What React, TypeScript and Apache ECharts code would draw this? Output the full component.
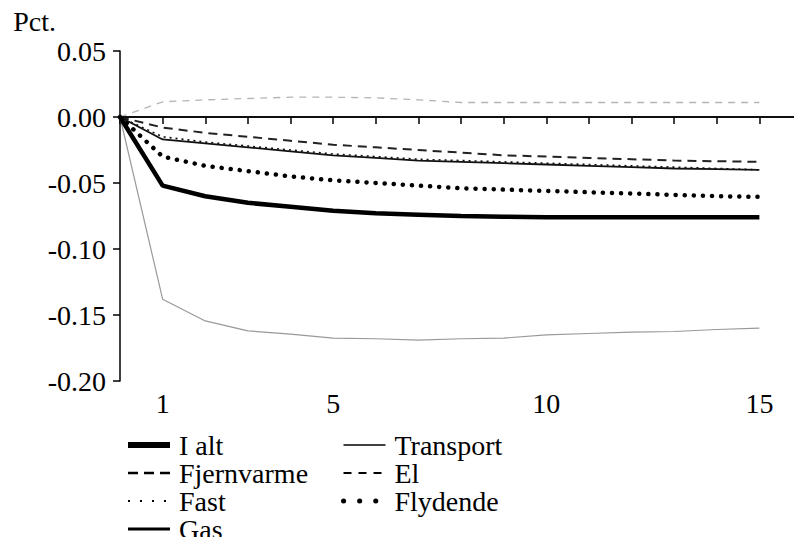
import React, { useEffect, useRef } from "react";
import * as echarts from "echarts";

const periods = [0, 1, 2, 3, 4, 5, 6, 7, 8, 9, 10, 11, 12, 13, 14, 15];
const iAlt = [0, -0.052, -0.060, -0.065, -0.068, -0.071, -0.073, -0.074, -0.075, -0.0755, -0.076, -0.076, -0.076, -0.076, -0.076, -0.076];
const transport = [0, -0.138, -0.1545, -0.162, -0.1645, -0.1675, -0.168, -0.169, -0.168, -0.1675, -0.165, -0.164, -0.163, -0.1625, -0.161, -0.160];
const fjernvarme = [0, -0.008, -0.012, -0.015, -0.018, -0.021, -0.023, -0.025, -0.027, -0.029, -0.030, -0.031, -0.032, -0.033, -0.0335, -0.034];
const el = [0, 0.0115, 0.013, 0.014, 0.015, 0.015, 0.0145, 0.013, 0.011, 0.011, 0.011, 0.011, 0.011, 0.011, 0.011, 0.011];
const fast = [0, -0.015, -0.019, -0.022, -0.025, -0.028, -0.030, -0.032, -0.033, -0.034, -0.035, -0.036, -0.037, -0.038, -0.039, -0.040];
const flydende = [0, -0.030, -0.037, -0.041, -0.045, -0.048, -0.050, -0.052, -0.054, -0.055, -0.056, -0.057, -0.058, -0.059, -0.060, -0.0605];
const gas = [0, -0.017, -0.020, -0.023, -0.026, -0.029, -0.031, -0.033, -0.034, -0.035, -0.036, -0.037, -0.038, -0.039, -0.0395, -0.040];

const xLabelValues = [1, 5, 10, 15];

const FONT = "Liberation Serif";
const FS = 28;

const pairs = (vals: number[]) => periods.map((p, i) => [p, vals[i]]);

export default function App() {
  const ref = useRef<HTMLDivElement>(null);
  useEffect(() => {
    if (!ref.current) return;
    const chart = echarts.init(ref.current, null, { renderer: "svg" });
    const mk = (name: string, vals: number[], lineStyle: any, z = 2) => ({
      name,
      type: "line",
      data: pairs(vals),
      symbol: "none",
      showSymbol: false,
      lineStyle,
      itemStyle: { color: lineStyle.color },
      z,
    });
    const legendCommon = {
      orient: "vertical",
      top: 426,
      height: 130,
      padding: 5,
      itemWidth: 42,
      itemHeight: 14,
      itemGap: 0,
      itemStyle: { opacity: 0, borderWidth: 0 },
      lineStyle: { width: "inherit" },
      textStyle: { color: "#000", fontFamily: FONT, fontSize: FS, lineHeight: 28, padding: [0, 0, 0, 4] },
    };
    chart.setOption({
      animation: false,
      backgroundColor: "#fff",
      grid: { left: 120, top: 51, width: 684, height: 330 },
      xAxis: {
        type: "value",
        min: 0,
        max: 16,
        interval: 1,
        axisLine: { show: true, lineStyle: { color: "#000", width: 1.5 } },
        axisTick: { show: true, length: 7, lineStyle: { color: "#000", width: 1.5 } },
        axisLabel: { customValues: xLabelValues, color: "#000", fontFamily: FONT, fontSize: FS, margin: 8 },
        splitLine: { show: false },
      },
      yAxis: {
        type: "value",
        min: -0.2,
        max: 0.05,
        interval: 0.05,
        name: "Pct.",
        nameLocation: "end",
        nameGap: 16,
        nameTextStyle: { color: "#000", fontFamily: FONT, fontSize: FS, align: "right", padding: [0, 64, 0, 0] },
        axisLine: { show: true, lineStyle: { color: "#000", width: 1.5 } },
        axisTick: { show: true, length: 7, lineStyle: { color: "#000", width: 1.5 } },
        axisLabel: {
          color: "#000",
          fontFamily: FONT,
          fontSize: FS,
          margin: 14,
          formatter: (v: number) => v.toFixed(2),
        },
        splitLine: { show: false },
      },
      legend: [
        {
          ...legendCommon,
          left: 120,
          data: [
            { name: "I alt", lineStyle: { width: 6, color: "#000", type: "solid" } },
            { name: "Fjernvarme", lineStyle: { width: 2.5, color: "#000", type: [10, 6] } },
            { name: "Fast", lineStyle: { width: 2, color: "#000", type: [2, 10] } },
            { name: "Gas", lineStyle: { width: 3, color: "#000", type: "solid" } },
          ],
        },
        {
          ...legendCommon,
          left: 336,
          data: [
            { name: "Transport", lineStyle: { width: 1.5, color: "#000", type: "solid" } },
            { name: "El", lineStyle: { width: 1.8, color: "#000", type: [8, 7] } },
            { name: "Flydende", lineStyle: { width: 5, color: "#000", type: [0.1, 16], cap: "round" } },
          ],
        },
      ],
      series: [
        {
          ...mk("Transport", transport, { color: "#999", width: 1.2, type: "solid" }),
          markLine: {
            silent: true,
            symbol: "none",
            label: { show: false },
            lineStyle: { color: "#000", width: 1.5, type: "solid" },
            data: [{ yAxis: 0 }],
          },
        },
        mk("El", el, { color: "#b5b5b5", width: 1.3, type: [7, 6] }),
        mk("Fjernvarme", fjernvarme, { color: "#222", width: 2, type: [9, 6] }),
        mk("Fast", fast, { color: "#111", width: 1.6, type: [2, 4] }),
        mk("Gas", gas, { color: "#111", width: 1.8, type: "solid" }),
        mk("Flydende", flydende, { color: "#000", width: 4.5, type: [0.1, 9], cap: "round" }),
        mk("I alt", iAlt, { color: "#000", width: 4.5, type: "solid" }, 3),
      ],
    });
    return () => chart.dispose();
  }, []);
  return <div ref={ref} style={{ width: 802, height: 545, margin: -8 }} />;
}
